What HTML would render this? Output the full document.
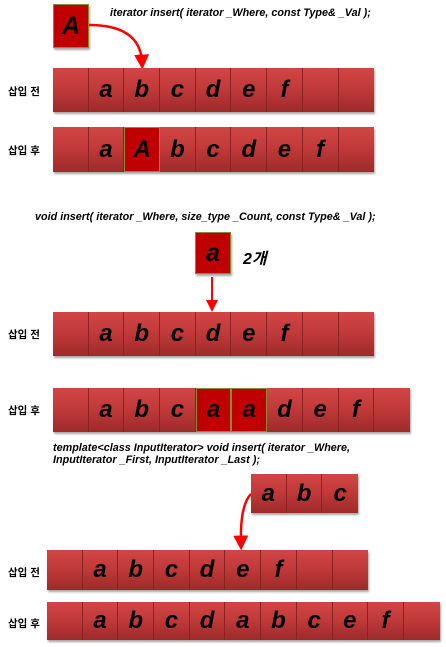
<!DOCTYPE html>
<html><head><meta charset="utf-8">
<style>
body{margin:0;width:446px;height:647px;background:#fff;position:relative;overflow:hidden;font-family:"Liberation Sans","Noto Sans CJK KR",sans-serif;}
.row{position:absolute;display:flex;box-shadow:1px 2px 2px rgba(0,0,0,.35);}
.cell{box-sizing:border-box;height:100%;background:linear-gradient(#d24545,#c23a3a 45%,#9e2a2a);border-right:1px solid #8a2222;display:flex;align-items:center;justify-content:center;font-weight:bold;font-style:italic;font-size:24px;color:#000;}
.cell:last-child{border-right:none}
.cell.hl{background:#c00000;border:1px solid #8a8a30;}
.box{position:absolute;box-sizing:border-box;background:#c00000;border:1px solid #8a8a30;display:flex;align-items:center;justify-content:center;font-weight:bold;font-style:italic;font-size:25px;box-shadow:1px 2px 2px rgba(0,0,0,.35);}
.lbl{position:absolute;left:8px;font-size:10.5px;font-weight:bold;}
.code{position:absolute;font-size:10.8px;font-weight:bold;font-style:italic;white-space:nowrap;}
</style></head><body>
<div class="box" style="left:53px;top:4px;width:36px;height:44px;">A</div>
<div class="code" style="left:110px;top:7px;">iterator insert( iterator _Where, const Type&amp; _Val );</div>
<div class="lbl" style="top:84px">삽입 전</div>
<div class="lbl" style="top:143px">삽입 후</div>
<div class="code" style="left:35px;top:211px;">void insert( iterator _Where, size_type _Count, const Type&amp; _Val );</div>
<div class="box" style="left:195px;top:232px;width:36px;height:42px;">a</div>
<div style="position:absolute;left:243px;top:245px;font-size:16px;font-weight:bold;font-style:italic;">2개</div>
<div class="lbl" style="top:327px">삽입 전</div>
<div class="lbl" style="top:403px">삽입 후</div>
<div class="code" style="left:53px;top:442px;line-height:12px;">template&lt;class InputIterator&gt; void insert( iterator _Where,<br>InputIterator _First, InputIterator _Last );</div>
<div class="lbl" style="top:565px">삽입 전</div>
<div class="lbl" style="top:616px">삽입 후</div>
<svg width="446" height="647" style="position:absolute;left:0;top:0;pointer-events:none">
<defs><marker id="ah" markerWidth="6" markerHeight="6" refX="3" refY="3" orient="auto"><path d="M0,0 L6,3 L0,6 Z" fill="#f00"/></marker></defs>
<path d="M89,25 Q140,25 142,62" stroke="#f00" stroke-width="2.5" fill="none" marker-end="url(#ah)"/>
<path d="M212,277 L212,306" stroke="#f00" stroke-width="2" fill="none" marker-end="url(#ah)"/>
<path d="M251,494 Q240,505 241,543" stroke="#f00" stroke-width="2.5" fill="none" marker-end="url(#ah)"/>
</svg>
<script>
const rows=[
 {name:'row-before-1',x:53,y:68,h:44,cells:['','a','b','c','d','e','f','',''],hl:[]},
 {name:'row-after-1',x:53,y:127,h:45,cells:['','a','A','b','c','d','e','f',''],hl:[2]},
 {name:'row-before-2',x:53,y:312,h:44,cells:['','a','b','c','d','e','f','',''],hl:[]},
 {name:'row-after-2',x:53,y:388,h:44,cells:['','a','b','c','a','a','d','e','f',''],hl:[4,5]},
 {name:'range-abc',x:251,y:474,h:39,cells:['a','b','c'],hl:[]},
 {name:'row-before-3',x:47,y:550,h:40,cells:['','a','b','c','d','e','f','',''],hl:[]},
 {name:'row-after-3',x:47,y:602,h:38,cells:['','a','b','c','d','a','b','c','e','f',''],hl:[]}
];
const cw=35.7;
rows.forEach(r=>{
 const d=document.createElement('div');
 d.className='row';
 
 
 d.style.left=r.x+'px';d.style.top=r.y+'px';d.style.height=r.h+'px';d.style.width=(cw*r.cells.length)+'px';
 r.cells.forEach((t,i)=>{
  const c=document.createElement('div');
  c.className='cell'+(r.hl.includes(i)?' hl':'');
  
  
  c.style.width=cw+'px';
  c.textContent=t;
  d.appendChild(c);
 });
 document.body.appendChild(d);
});
</script>
</body></html>
